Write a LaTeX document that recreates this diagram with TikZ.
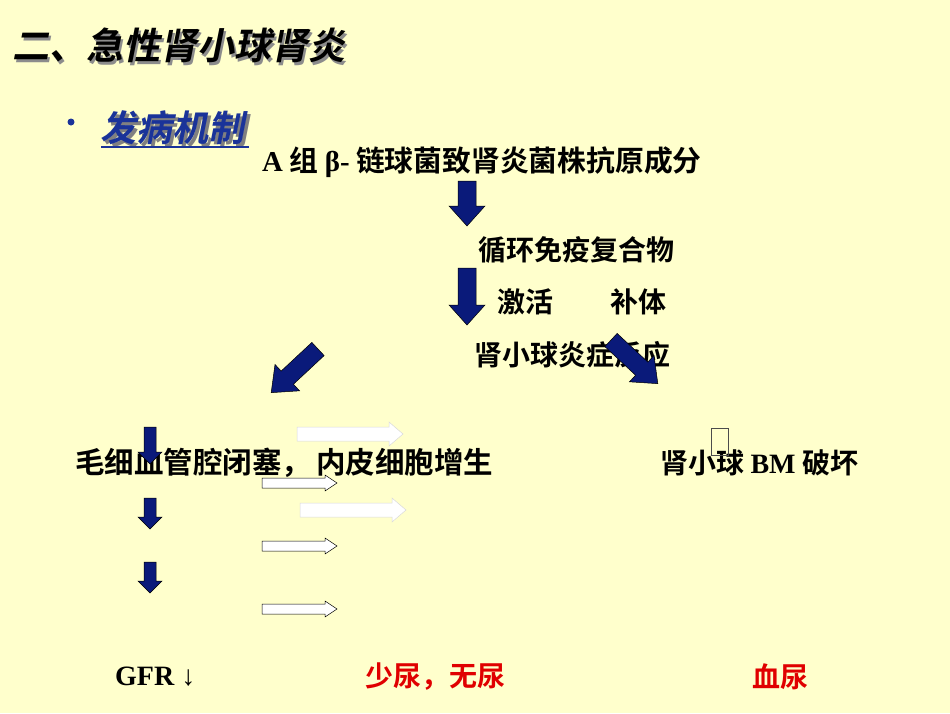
\documentclass[tikz,border=0pt]{standalone}
\usepackage{fontspec}
\newfontfamily\cjk{Noto Sans CJK SC}[BoldFont={Noto Sans CJK SC Bold}]
\newfontfamily\cjksl{Noto Sans CJK SC Bold}[FakeSlant=0.2]
\newfontfamily\lat{Liberation Serif}
\definecolor{bg}{HTML}{FFFFCC}
\definecolor{navy}{HTML}{0A1A7A}
\definecolor{bluet}{HTML}{1A3399}
\definecolor{redt}{HTML}{E00000}
\tikzset{
 txt/.style={anchor=west,inner sep=0pt,font=\cjk\bfseries\fontsize{28}{28}\selectfont},
 barrow/.style={fill=navy,draw=black,line width=0.5pt,line join=miter},
 warrow/.style={fill=white,draw=black,line width=0.5pt},
 farrow/.style={fill=white,draw=white!85!black,line width=0.5pt},
}
% style, x, y (tail centre), angle, length, shaft half-width, head half-width, head length
\newcommand\blk[8]{\draw[#1,shift={(#2,#3)},rotate=#4] (0,-#6)--(#5-#8,-#6)--(#5-#8,-#7)--(#5,0)--(#5-#8,#7)--(#5-#8,#6)--(0,#6)--cycle;}
\begin{document}
\begin{tikzpicture}[x=1pt,y=-1pt]
\fill[bg] (0,0) rectangle (950,713);
% title
\node[txt,font=\cjksl\fontsize{37}{37}\selectfont,text=black!45] (tsh) at (14,48) {二、急性肾小球肾炎};
\node[txt,font=\cjksl\fontsize{37}{37}\selectfont] (title) at (12,45) {二、急性肾小球肾炎};
\fill[bluet] (71,122) circle (3.5pt);
\node[txt,font=\cjksl\fontsize{36}{36}\selectfont,text=black!50] (fsh) at (103,131) {发病机制};
\node[txt,font=\cjksl\fontsize{36}{36}\selectfont,text=bluet] (fb) at (100,128) {发病机制};
\draw[bluet,line width=1.5pt] (101,147) -- (249,147);
% texts
\node[txt,font=\cjk\bfseries\fontsize{28.8}{28}\selectfont] (a) at (262,162) {{\lat\bfseries A} 组 {\lat\bfseries β-} 链球菌致肾炎菌株抗原成分};
\node[txt] (b) at (478,250) {循环免疫复合物};
\node[txt] (c1) at (497,302) {激活};
\node[txt] (c2) at (610,302) {补体};
\node[txt] (d) at (474,355) {肾小球炎症反应};
\node[txt,font=\cjk\bfseries\fontsize{29.5}{28}\selectfont] (e) at (75,463) {毛细血管腔闭塞，\,内皮细胞增生};
\node[txt] (f) at (660,463) {肾小球 {\lat\bfseries BM} 破坏};
\node[txt,font=\lat\bfseries\fontsize{28}{28}\selectfont] (g) at (115,677) {GFR ↓};
\node[txt,text=redt] (h) at (365,677) {少尿，无尿};
\node[txt,text=redt] (i) at (752,677) {血尿};
% big arrows
\blk{barrow}{467}{181}{-90}{45}{9}{18}{20}
\blk{barrow}{467}{268}{-90}{57}{9}{18}{20}
\blk{barrow}{318}{349}{-137}{64}{9}{18}{22}
\blk{barrow}{611}{340}{-43}{64}{9}{18}{22}
% small down arrows
\blk{barrow}{150}{427}{-90}{37}{6}{12}{12}
\blk{barrow}{150}{498}{-90}{31}{6}{12}{12}
\blk{barrow}{150}{562}{-90}{31}{6}{12}{12}
% white arrows
\blk{farrow}{297}{434}{0}{106}{7}{12}{14}
\blk{farrow}{300}{510}{0}{106}{7}{12}{14}
\blk{warrow}{262}{483}{0}{75}{5}{8}{12}
\blk{warrow}{262}{546}{0}{75}{5}{8}{12}
\blk{warrow}{262}{609}{0}{75}{5}{8}{12}
\draw[black!70,line width=0.6pt] (711,428) rectangle (728,455);
\end{tikzpicture}
\end{document}
